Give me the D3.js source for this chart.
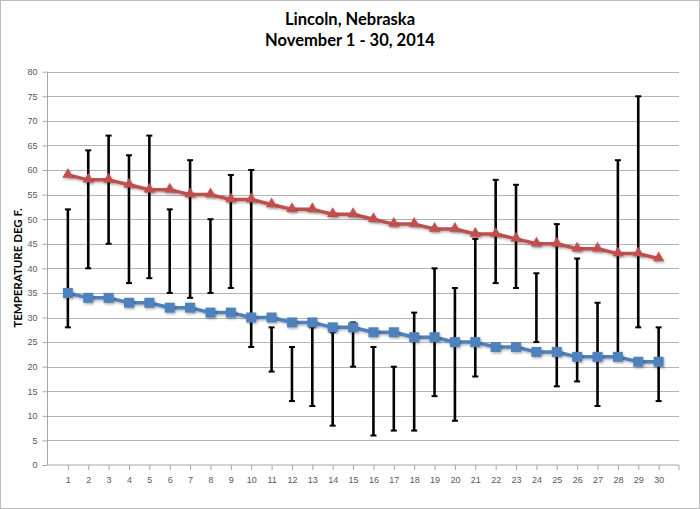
<!DOCTYPE html>
<html>
<head>
<meta charset="utf-8">
<script src="https://cdn.jsdelivr.net/npm/d3@7"></script>
<style>
  html, body { margin: 0; padding: 0; background: #fff; }
  svg { display: block; }
</style>
</head>
<body>
<svg id="chart" width="700" height="509"></svg>
<script>
const days = d3.range(1, 31);
const normalHigh = [59,58,58,57,56,56,55,55,54,54,53,52,52,51,51,50,49,49,48,48,47,47,46,45,45,44,44,43,43,42];
const normalLow  = [35,34,34,33,33,32,32,31,31,30,30,29,29,28,28,27,27,26,26,25,25,24,24,23,23,22,22,22,21,21];
const actualHigh = [52,64,67,63,67,52,62,50,59,60,28,24,28,27,29,24,20,31,40,36,46,58,57,39,49,42,33,62,75,28];
const actualLow  = [28,40,45,37,38,35,34,35,36,24,19,13,12,8,20,6,7,7,14,9,18,37,36,25,16,17,12,22,28,13];
const yTicks = d3.range(0, 81, 5);
const titleLines = ["Lincoln, Nebraska", "November 1 - 30, 2014"];
const yLabel = "TEMPERATURE DEG F.";

(function () {
const svg = d3.select("#chart");
const W = 700, H = 509;
const pLeft = 47.5, pRight = 679, pTop = 71.7, pBottom = 465;

const x = d3.scaleLinear().domain([0, 31]).range([pLeft, pRight]);
const y = d3.scaleLinear().domain([0, 80]).range([pBottom, pTop]);

// frame
svg.append("rect").attr("x", 0.5).attr("y", 0.5).attr("width", W - 1).attr("height", H - 1)
  .attr("fill", "#fff").attr("stroke", "#bdbdbd").attr("stroke-width", 1);

// shadow filter
const defs = svg.append("defs");
const f = defs.append("filter").attr("id", "sh").attr("x", "-50%").attr("y", "-50%").attr("width", "200%").attr("height", "200%");
f.append("feDropShadow").attr("dx", 1).attr("dy", 1.5).attr("stdDeviation", 1.2).attr("flood-color", "#000").attr("flood-opacity", 0.3);

// gridlines
svg.append("g").selectAll("line").data(yTicks.filter(v => v > 0)).join("line")
  .attr("x1", pLeft).attr("x2", pRight)
  .attr("y1", d => Math.round(y(d)) + 0.5).attr("y2", d => Math.round(y(d)) + 0.5)
  .attr("stroke", "#b3b3b3").attr("stroke-width", 1);

// y axis
const yAxis = d3.axisLeft(y).tickValues(yTicks).tickSize(5).tickPadding(5);
const gy = svg.append("g").attr("transform", `translate(${pLeft},0)`).call(yAxis);
gy.select(".domain").attr("stroke", "#a6a6a6").attr("d", `M0,${pTop}V${pBottom}`);
gy.selectAll(".tick line").attr("stroke", "#a6a6a6");
gy.selectAll(".tick text").attr("fill", "#595959").style("font-family", "'Liberation Sans', Arial, sans-serif").style("font-size", "9px");

// x axis
const xAxis = d3.axisBottom(x).tickValues(days).tickFormat(d3.format("d")).tickSize(5).tickPadding(7);
const gx = svg.append("g").attr("transform", `translate(0,${pBottom})`).call(xAxis);
gx.select(".domain").attr("stroke", "#a6a6a6").attr("d", `M${pLeft},0H${pRight}`);
gx.selectAll(".tick line").attr("stroke", "#a6a6a6");
gx.selectAll(".tick text").attr("fill", "#595959").style("font-family", "'Liberation Sans', Arial, sans-serif").style("font-size", "9px");
gx.append("line").attr("x1", pRight).attr("x2", pRight).attr("y1", 0).attr("y2", 5).attr("stroke", "#a6a6a6");

// error bars
const eb = svg.append("g").attr("stroke", "#000").attr("stroke-width", 2.6);
days.forEach((d, i) => {
  const cx = x(d);
  eb.append("line").attr("x1", cx).attr("x2", cx).attr("y1", y(actualLow[i])).attr("y2", y(actualHigh[i]));
  eb.append("line").attr("x1", cx - 3).attr("x2", cx + 3).attr("y1", y(actualLow[i])).attr("y2", y(actualLow[i])).attr("stroke-width", 2);
  eb.append("line").attr("x1", cx - 3).attr("x2", cx + 3).attr("y1", y(actualHigh[i])).attr("y2", y(actualHigh[i])).attr("stroke-width", 2);
});

// lines
const red = "#c0504d", blue = "#4f81bd";
const line = d3.line().x((d, i) => x(days[i])).y(d => y(d));
svg.append("path").datum(normalHigh).attr("d", line).attr("fill", "none").attr("stroke", red)
  .attr("stroke-width", 3.5).attr("stroke-linejoin", "round").attr("filter", "url(#sh)");
svg.append("path").datum(normalLow).attr("d", line).attr("fill", "none").attr("stroke", blue)
  .attr("stroke-width", 3.5).attr("stroke-linejoin", "round").attr("filter", "url(#sh)");

// markers
const tri = d3.symbol().type(d3.symbolTriangle).size(55);
svg.append("g").selectAll("path").data(normalHigh).join("path")
  .attr("d", tri).attr("transform", (d, i) => `translate(${x(days[i])},${y(d) - 0.5})`)
  .attr("fill", red).attr("filter", "url(#sh)");
svg.append("g").selectAll("rect").data(normalLow).join("rect")
  .attr("x", (d, i) => x(days[i]) - 5).attr("y", d => y(d) - 5)
  .attr("width", 10).attr("height", 10).attr("fill", blue).attr("filter", "url(#sh)");

// title
const t = svg.append("text").attr("x", 350).attr("text-anchor", "middle")
  .style("font-family", "Lato, 'Open Sans', sans-serif").style("font-weight", "bold").style("font-size", "16.5px").attr("fill", "#000");
titleLines.forEach((s, i) => t.append("tspan").attr("x", 350).attr("y", 25 + i * 20.5).text(s));

// y label
svg.append("text").attr("transform", "translate(22,268) rotate(-90)").attr("text-anchor", "middle")
  .style("font-family", "Lato, 'Open Sans', sans-serif").style("font-weight", "bold").style("font-size", "11.5px").attr("fill", "#000")
  .text(yLabel);
})();
</script>
</body>
</html>
